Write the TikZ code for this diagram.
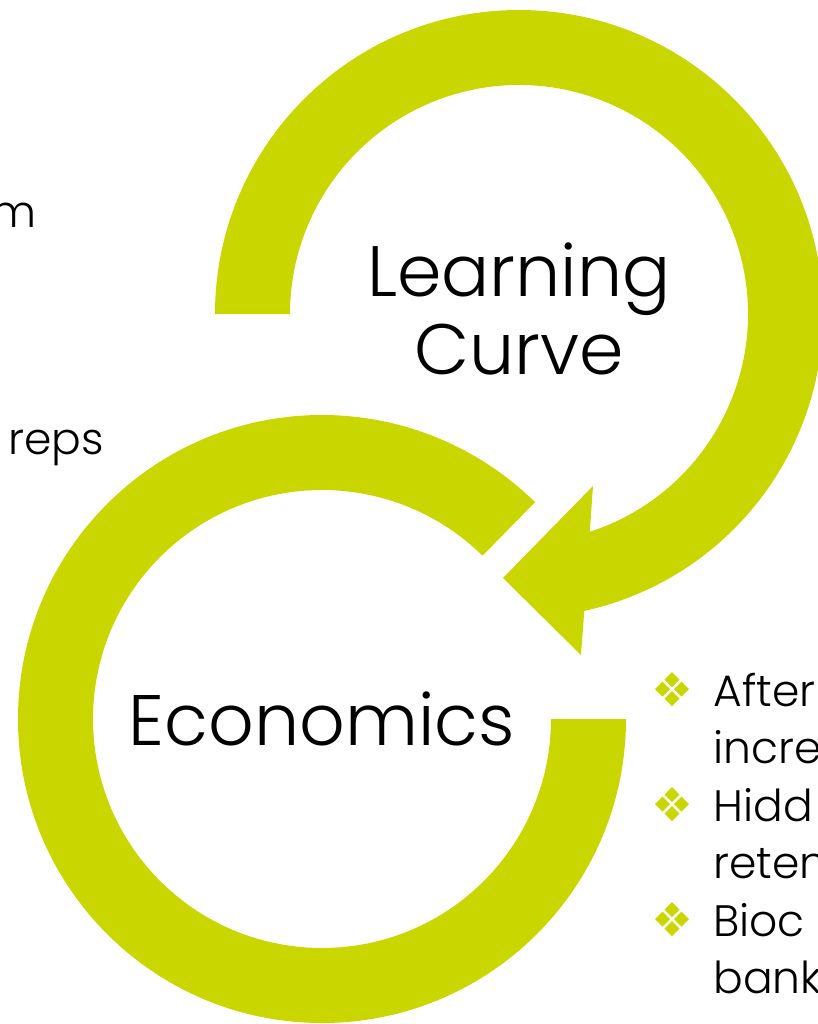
\documentclass[tikz,border=0pt]{standalone}
\usepackage{fontspec}
\setmainfont{Poppins}[UprightFont=* Light]
\usetikzlibrary{calc}
\definecolor{ringgreen}{RGB}{202,214,0}
\tikzset{
  ring/.style={fill=ringgreen, draw=none},
  title/.style={font=\fontsize{35.7}{40}\selectfont, inner sep=0pt, anchor=base, text=black},
  body/.style={font=\fontsize{22}{28}\selectfont, inner sep=0pt, anchor=base west, text=black},
  bulletgem/.pic={
    \foreach \dx/\dy in {0/-9.5,-9.5/0,9.5/0,0/9.5}
      \fill[ringgreen] (\dx,\dy) ++(0,-7.5) -- ++(7.5,7.5) -- ++(-7.5,7.5) -- ++(-7.5,-7.5) -- cycle;
  },
}
\begin{document}
\begin{tikzpicture}[x=0.5pt,y=-0.5pt]
\useasboundingbox (0,0) rectangle (818,1024);
\clip (0,0) rectangle (818,1024);
\coordinate (U) at (519,314);
\coordinate (L) at (322,719);

% lower ring, open at the upper right
\fill[ring] ($(L)+(0:304)$) arc[start angle=0,end angle=314.5,radius=304]
  -- ($(L)+(314.5:229)$) arc[start angle=314.5,end angle=0,radius=229] -- cycle;

% upper ring with its arrowhead pointing into the gap
\coordinate (barbin) at (593,486);
\coordinate (tip) at (503,578);
\coordinate (barbout) at (581,655);
\fill[ring] ($(U)+(180:304)$) arc[start angle=180,end angle=437.6,radius=304]
  -- (barbout) -- (tip) -- (barbin)
  -- ($(U)+(432:229)$) arc[start angle=432,end angle=180,radius=229] -- cycle;

% ring titles
\node[title] (learn) at (519,296) {Learning};
\node[title] (curve) at (519,374) {Curve};
\node[title] (econ) at (322,745) {Economics};

% text running in from the left edge
\node[body, anchor=base east] (fragm) at (37,227) {m};
\node[body] (fragreps) at (8,454) {reps};

% bulleted list running off the right edge
\pic at (672,689) {bulletgem};
\pic at (672,804) {bulletgem};
\pic at (672,919) {bulletgem};
\node[body] (itemA1) at (713,706) {After};
\node[body] (itemA2) at (713,763) {incre};
\node[body] (itemB1) at (713,821) {Hidd};
\node[body] (itemB2) at (713,878) {reten};
\node[body] (itemC1) at (713,936) {Bioc};
\node[body] (itemC2) at (713,993) {bank};
\end{tikzpicture}
\end{document}
